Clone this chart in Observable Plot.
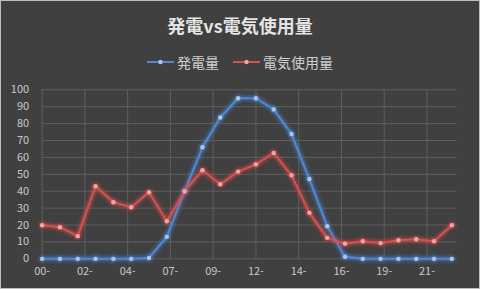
<!DOCTYPE html>
<html><head><meta charset="utf-8">
<script src="https://cdn.jsdelivr.net/npm/d3@7"></script>
<script src="https://cdn.jsdelivr.net/npm/@observablehq/plot@0.6"></script>
<style>
html,body{margin:0;padding:0;background:#404040;}
#wrap{position:relative;width:478px;height:287px;background:#404040;border:1px solid #bdbdbd;overflow:hidden;font-family:"Noto Sans CJK JP","Noto Sans",sans-serif;}
#title{position:absolute;left:0;top:12px;width:478px;text-align:center;font-size:18px;font-weight:bold;color:#e4e4e4;line-height:24px;}
#legend{position:absolute;left:0;top:51px;width:478px;display:flex;justify-content:center;gap:14px;font-size:14px;color:#d0d0d0;line-height:20px;}
#legend .item{display:flex;align-items:center;gap:3px;}
#chart{position:absolute;left:-1px;top:79px;}
</style></head>
<body><div id="wrap"><div id="title">発電vs電気使用量</div><div id="legend"></div><div id="chart"></div></div>
<script>
const hours = [0,1,2,3,4,5,6,7,8,9,10,11,12,13,14,15,16,17,18,19,20,21,22,23];
const generation = [0,0,0,0,0,0,0.5,13,40,66,83.6,95,95,88.4,73.8,47.2,19.3,1.2,0,0,0,0,0,0];
const usage = [19.9,18.7,13.4,42.9,33.5,30.5,39.4,22.2,40,52.4,44.1,51.6,55.9,62.6,49.4,27.2,12.4,8.9,10.4,9.3,11.0,11.6,10.4,19.9];
const seriesNames = ["発電量","電気使用量"];
const yTicks = [0,10,20,30,40,50,60,70,80,90,100];
const xTicks = [0,2.4,4.8,7.2,9.6,12,14.4,16.8,19.2,21.6];
const colors = ["#5089d4","#d9504f"];
const dotColors = ["#a9c6ec","#f2a3a3"];

const genData = hours.map((h,i)=>({h, v: generation[i]}));
const useData = hours.map((h,i)=>({h, v: usage[i]}));

const chart = Plot.plot({
  width: 480, height: 210,
  marginLeft: 41.7, marginRight: 22.3, marginTop: 9.3, marginBottom: 31.3,
  style: {background: "transparent", color: "#c8c8c8", fontSize: "11px", fontFamily: "'Noto Sans CJK JP','Noto Sans',sans-serif"},
  x: {domain: [0, 23.3], ticks: xTicks, tickFormat: d => String(Math.floor(d + 1e-9)).padStart(2, "0") + "-", tickSize: 0, tickPadding: 8, label: null},
  y: {domain: [0, 100], ticks: yTicks, tickSize: 0, tickPadding: 13, label: null},
  marks: [
    Plot.gridX(xTicks, {stroke: "#5e5e5e", strokeOpacity: 1, strokeWidth: 1}),
    Plot.gridY(yTicks, {stroke: "#5e5e5e", strokeOpacity: 1, strokeWidth: 1, x1: 0, x2: 23.3}),
    Plot.line(genData, {x: "h", y: "v", stroke: colors[0], strokeWidth: 2, curve: "linear"}),
    Plot.line(useData, {x: "h", y: "v", stroke: colors[1], strokeWidth: 2, curve: "linear"}),
    Plot.dot(genData, {x: "h", y: "v", r: 2.2, fill: dotColors[0], stroke: "none"}),
    Plot.dot(useData, {x: "h", y: "v", r: 2.2, fill: dotColors[1], stroke: "none"})
  ]
});

// glow filters
const svg = d3.select(chart);
const defs = svg.insert("defs", ":first-child");
colors.forEach((c, i) => {
  const f = defs.append("filter").attr("id", "glow" + i).attr("x", "-20%").attr("y", "-20%").attr("width", "140%").attr("height", "140%");
  f.append("feGaussianBlur").attr("in", "SourceAlpha").attr("stdDeviation", 2.2).attr("result", "b");
  f.append("feFlood").attr("flood-color", c).attr("flood-opacity", 0.7).attr("result", "c");
  f.append("feComposite").attr("in", "c").attr("in2", "b").attr("operator", "in").attr("result", "g");
  const m = f.append("feMerge");
  m.append("feMergeNode").attr("in", "g");
  m.append("feMergeNode").attr("in", "g");
  m.append("feMergeNode").attr("in", "SourceGraphic");
});
const lines = svg.selectAll('g[aria-label="line"]').nodes();
lines.forEach((g, i) => d3.select(g).attr("filter", `url(#glow${i})`));
const dots = svg.selectAll('g[aria-label="dot"]').nodes();
dots.forEach((g, i) => d3.select(g).attr("filter", `url(#glow${i})`));

document.getElementById("chart").appendChild(chart);

// legend
const legend = d3.select("#legend");
seriesNames.forEach((name, i) => {
  const it = legend.append("div").attr("class", "item");
  const s = it.append("svg").attr("width", 27).attr("height", 8);
  s.append("line").attr("x1", 0).attr("x2", 27).attr("y1", 4).attr("y2", 4).attr("stroke", colors[i]).attr("stroke-width", 2);
  s.append("circle").attr("cx", 13.5).attr("cy", 4).attr("r", 2.2).attr("fill", dotColors[i]);
  it.append("span").text(name);
});
</script></body></html>
